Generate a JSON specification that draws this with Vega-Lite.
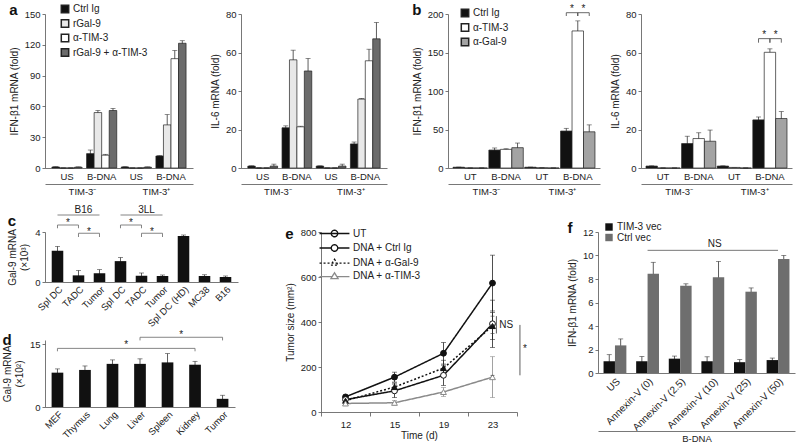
{
"$schema":"https://vega.github.io/schema/vega-lite/v6.json",
"background":"white",
"padding":{"left":2,"right":2,"top":3,"bottom":2},
"config":{
 "font":"Liberation Sans",
 "view":{"stroke":null},
 "axis":{"labelFont":"Liberation Sans","titleFont":"Liberation Sans","labelFontSize":9.5,"titleFontSize":10,"titleFontWeight":"normal","labelColor":"#222","titleColor":"#222","domainColor":"#555","tickColor":"#555","domainWidth":0.8,"tickWidth":0.8,"tickSize":3,"grid":false,"labelPadding":2,"titlePadding":5},
 "legend":{"labelFont":"Liberation Sans","labelFontSize":10,"labelColor":"#222"},
 "title":{"font":"Liberation Sans","fontSize":15,"fontWeight":"bold","anchor":"start","frame":"bounds","color":"#111"},
 "text":{"font":"Liberation Sans","fontSize":10,"color":"#222"}
},
"spacing":9,
"resolve":{"scale":{"color":"independent","fill":"independent","stroke":"independent","shape":"independent","strokeDash":"independent","xOffset":"independent"}},
"vconcat":[
{"spacing":25,
 "resolve":{"scale":{"color":"independent","fill":"independent","stroke":"independent","shape":"independent","strokeDash":"independent","xOffset":"independent"}},
 "hconcat":[
 {"spacing":17,
  "resolve":{"scale":{"color":"independent","xOffset":"independent"}},
  "hconcat":[
  {"width":148,"height":154,
   "title":{"text":"a","offset":-14},
   "layer":[
    {"data":{"values":[
     {"c":"TIM-3⁻ US","s":"Ctrl Ig","v":1,"e":0.2},
     {"c":"TIM-3⁻ US","s":"rGal-9","v":0,"e":0},
     {"c":"TIM-3⁻ US","s":"α-TIM-3","v":0,"e":0},
     {"c":"TIM-3⁻ US","s":"rGal-9 + α-TIM-3","v":0.8,"e":0.3},
     {"c":"TIM-3⁻ B-DNA","s":"Ctrl Ig","v":14,"e":3.5},
     {"c":"TIM-3⁻ B-DNA","s":"rGal-9","v":54,"e":2},
     {"c":"TIM-3⁻ B-DNA","s":"α-TIM-3","v":12.5,"e":0.8},
     {"c":"TIM-3⁻ B-DNA","s":"rGal-9 + α-TIM-3","v":56,"e":2},
     {"c":"TIM-3⁺ US","s":"Ctrl Ig","v":1,"e":0.2},
     {"c":"TIM-3⁺ US","s":"rGal-9","v":0,"e":0},
     {"c":"TIM-3⁺ US","s":"α-TIM-3","v":0,"e":0},
     {"c":"TIM-3⁺ US","s":"rGal-9 + α-TIM-3","v":0.8,"e":0.3},
     {"c":"TIM-3⁺ B-DNA","s":"Ctrl Ig","v":11.7,"e":0.3},
     {"c":"TIM-3⁺ B-DNA","s":"rGal-9","v":42,"e":10},
     {"c":"TIM-3⁺ B-DNA","s":"α-TIM-3","v":106.5,"e":8},
     {"c":"TIM-3⁺ B-DNA","s":"rGal-9 + α-TIM-3","v":121.5,"e":2.5}]},
     "encoding":{
      "x":{"field":"c","type":"nominal","scale":{"domain":["TIM-3⁻ US","TIM-3⁻ B-DNA","TIM-3⁺ US","TIM-3⁺ B-DNA"],"paddingInner":0.13,"paddingOuter":0.2},"axis":{"title":null,"labelExpr":"split(datum.label,' ')[1]","labelAngle":0,"ticks":false,"labelPadding":3}},
      "xOffset":{"field":"s","type":"nominal","scale":{"domain":["Ctrl Ig","rGal-9","α-TIM-3","rGal-9 + α-TIM-3"]}},
      "y":{"field":"v","type":"quantitative","scale":{"domain":[0,150]},"axis":{"title":"IFN-β1 mRNA (fold)","values":[0,30,60,90,120,150]}}
     },
     "layer":[
      {"mark":{"type":"errorbar","ticks":true,"size":5,"thickness":0.8,"color":"#333"},"encoding":{"yError":{"field":"e"}}},
      {"mark":{"type":"bar","stroke":"#222","strokeWidth":0.7},"encoding":{"color":{"field":"s","type":"nominal","scale":{"domain":["Ctrl Ig","rGal-9","α-TIM-3","rGal-9 + α-TIM-3"],"range":["#111111","#e8e8e8","#ffffff","#6b6b6b"]},"legend":{"title":null,"orient":"none","legendX":15,"legendY":-10,"symbolType":"square","symbolSize":55,"rowPadding":0.5,"labelOffset":3,"encode":{"symbols":{"stroke":{"value":"#222"},"strokeWidth":{"value":0.7}}}}}}}
     ]},
    {"data":{"values":[{"t":"TIM-3⁻"},{"t":"TIM-3⁺"}]},
     "mark":{"type":"text","opacity":0,"text":"."},
     "encoding":{"x":{"field":"t","type":"nominal","scale":{"domain":["TIM-3⁻","TIM-3⁺"],"paddingInner":0,"paddingOuter":0.05},"axis":{"orient":"bottom","offset":16,"title":null,"ticks":false,"labelAngle":0,"labelPadding":2,"domain":true}}}}
   ],
   "resolve":{"scale":{"x":"independent"},"axis":{"x":"independent"}}
  },
  {"width":146,"height":154,
   "layer":[
    {"data":{"values":[
     {"c":"TIM-3⁻ US","s":"Ctrl Ig","v":1,"e":0.1},
     {"c":"TIM-3⁻ US","s":"rGal-9","v":0,"e":0},
     {"c":"TIM-3⁻ US","s":"α-TIM-3","v":0,"e":0},
     {"c":"TIM-3⁻ US","s":"rGal-9 + α-TIM-3","v":1,"e":1},
     {"c":"TIM-3⁻ B-DNA","s":"Ctrl Ig","v":20.9,"e":1},
     {"c":"TIM-3⁻ B-DNA","s":"rGal-9","v":56.2,"e":5},
     {"c":"TIM-3⁻ B-DNA","s":"α-TIM-3","v":21.4,"e":0.3},
     {"c":"TIM-3⁻ B-DNA","s":"rGal-9 + α-TIM-3","v":50.4,"e":6.5},
     {"c":"TIM-3⁺ US","s":"Ctrl Ig","v":1,"e":0.1},
     {"c":"TIM-3⁺ US","s":"rGal-9","v":0,"e":0},
     {"c":"TIM-3⁺ US","s":"α-TIM-3","v":0,"e":0},
     {"c":"TIM-3⁺ US","s":"rGal-9 + α-TIM-3","v":1,"e":1},
     {"c":"TIM-3⁺ B-DNA","s":"Ctrl Ig","v":12.5,"e":1},
     {"c":"TIM-3⁺ B-DNA","s":"rGal-9","v":35.8,"e":0.3},
     {"c":"TIM-3⁺ B-DNA","s":"α-TIM-3","v":55.7,"e":6},
     {"c":"TIM-3⁺ B-DNA","s":"rGal-9 + α-TIM-3","v":67.1,"e":8.5}]},
     "encoding":{
      "x":{"field":"c","type":"nominal","scale":{"domain":["TIM-3⁻ US","TIM-3⁻ B-DNA","TIM-3⁺ US","TIM-3⁺ B-DNA"],"paddingInner":0.13,"paddingOuter":0.2},"axis":{"title":null,"labelExpr":"split(datum.label,' ')[1]","labelAngle":0,"ticks":false,"labelPadding":3}},
      "xOffset":{"field":"s","type":"nominal","scale":{"domain":["Ctrl Ig","rGal-9","α-TIM-3","rGal-9 + α-TIM-3"]}},
      "y":{"field":"v","type":"quantitative","scale":{"domain":[0,80]},"axis":{"title":"IL-6 mRNA (fold)","values":[0,20,40,60,80]}}
     },
     "layer":[
      {"mark":{"type":"errorbar","ticks":true,"size":5,"thickness":0.8,"color":"#333"},"encoding":{"yError":{"field":"e"}}},
      {"mark":{"type":"bar","stroke":"#222","strokeWidth":0.7},"encoding":{"color":{"field":"s","type":"nominal","scale":{"domain":["Ctrl Ig","rGal-9","α-TIM-3","rGal-9 + α-TIM-3"],"range":["#111111","#e8e8e8","#ffffff","#6b6b6b"]},"legend":null}}}
     ]},
    {"data":{"values":[{"t":"TIM-3⁻"},{"t":"TIM-3⁺"}]},
     "mark":{"type":"text","opacity":0,"text":"."},
     "encoding":{"x":{"field":"t","type":"nominal","scale":{"domain":["TIM-3⁻","TIM-3⁺"],"paddingInner":0,"paddingOuter":0.05},"axis":{"orient":"bottom","offset":16,"title":null,"ticks":false,"labelAngle":0,"labelPadding":2,"domain":true}}}}
   ],
   "resolve":{"scale":{"x":"independent"},"axis":{"x":"independent"}}
  }]
 },
 {"spacing":10,
  "resolve":{"scale":{"color":"independent","xOffset":"independent"}},
  "hconcat":[
  {"width":152,"height":154,
   "title":{"text":"b","offset":-14},
   "layer":[
    {"encoding":{
      "x":{"field":"c","type":"nominal","scale":{"domain":["TIM-3⁻ UT","TIM-3⁻ B-DNA","TIM-3⁺ UT","TIM-3⁺ B-DNA"],"paddingInner":0.04,"paddingOuter":0.14},"axis":{"title":null,"labelExpr":"split(datum.label,' ')[1]","labelAngle":0,"ticks":false,"labelPadding":3}},
      "xOffset":{"field":"s","type":"nominal","scale":{"domain":["Ctrl Ig","α-TIM-3","α-Gal-9"]}},
      "y":{"field":"v","type":"quantitative","scale":{"domain":[0,200]},"axis":{"title":"IFN-β1 mRNA (fold)","values":[0,50,100,150,200]}}
     },
     "layer":[
      {"data":{"values":[
       {"c":"TIM-3⁻ UT","s":"Ctrl Ig","v":1,"e":0.2},
       {"c":"TIM-3⁻ UT","s":"α-TIM-3","v":0,"e":0},
       {"c":"TIM-3⁻ UT","s":"α-Gal-9","v":0,"e":0},
       {"c":"TIM-3⁻ B-DNA","s":"Ctrl Ig","v":23.3,"e":2.7},
       {"c":"TIM-3⁻ B-DNA","s":"α-TIM-3","v":24.2,"e":0.8},
       {"c":"TIM-3⁻ B-DNA","s":"α-Gal-9","v":26.4,"e":6},
       {"c":"TIM-3⁺ UT","s":"Ctrl Ig","v":1,"e":0.2},
       {"c":"TIM-3⁺ UT","s":"α-TIM-3","v":0.3,"e":0},
       {"c":"TIM-3⁺ UT","s":"α-Gal-9","v":0,"e":0},
       {"c":"TIM-3⁺ B-DNA","s":"Ctrl Ig","v":48,"e":3.5},
       {"c":"TIM-3⁺ B-DNA","s":"α-TIM-3","v":178,"e":13},
       {"c":"TIM-3⁺ B-DNA","s":"α-Gal-9","v":47,"e":9}]},
       "layer":[
        {"mark":{"type":"errorbar","ticks":true,"size":5,"thickness":0.8,"color":"#333"},"encoding":{"yError":{"field":"e"}}},
        {"mark":{"type":"bar","stroke":"#222","strokeWidth":0.7},"encoding":{"color":{"field":"s","type":"nominal","scale":{"domain":["Ctrl Ig","α-TIM-3","α-Gal-9"],"range":["#111111","#ffffff","#a3a3a3"]},"legend":{"title":null,"orient":"none","legendX":12,"legendY":-6,"symbolType":"square","symbolSize":55,"rowPadding":0.5,"labelOffset":3,"encode":{"symbols":{"stroke":{"value":"#222"},"strokeWidth":{"value":0.7}}}}}}}
       ]},
      {"data":{"values":[
       {"c":"TIM-3⁺ B-DNA","s":"Ctrl Ig","v":197.4,"id":1,"o":1},
       {"c":"TIM-3⁺ B-DNA","s":"Ctrl Ig","v":201.7,"id":1,"o":2},
       {"c":"TIM-3⁺ B-DNA","s":"α-TIM-3","v":201.7,"id":1,"o":3},
       {"c":"TIM-3⁺ B-DNA","s":"α-TIM-3","v":197.4,"id":1,"o":4},
       {"c":"TIM-3⁺ B-DNA","s":"α-TIM-3","v":197.4,"id":2,"o":1},
       {"c":"TIM-3⁺ B-DNA","s":"α-TIM-3","v":201.7,"id":2,"o":2},
       {"c":"TIM-3⁺ B-DNA","s":"α-Gal-9","v":201.7,"id":2,"o":3},
       {"c":"TIM-3⁺ B-DNA","s":"α-Gal-9","v":197.4,"id":2,"o":4}]},
       "mark":{"type":"line","color":"#444","strokeWidth":0.8},
       "encoding":{"detail":{"field":"id","type":"nominal"},"order":{"field":"o","type":"quantitative"}}},
      {"data":{"values":[
       {"c":"TIM-3⁺ B-DNA","s":"Ctrl Ig","v":202,"t":"*"},
       {"c":"TIM-3⁺ B-DNA","s":"α-TIM-3","v":202,"t":"*"}]},
       "mark":{"type":"text","dx":5.75,"baseline":"alphabetic"},
       "encoding":{"text":{"field":"t"}}}
     ]},
    {"data":{"values":[{"t":"TIM-3⁻"},{"t":"TIM-3⁺"}]},
     "mark":{"type":"text","opacity":0,"text":"."},
     "encoding":{"x":{"field":"t","type":"nominal","scale":{"domain":["TIM-3⁻","TIM-3⁺"],"paddingInner":0,"paddingOuter":0.05},"axis":{"orient":"bottom","offset":16,"title":null,"ticks":false,"labelAngle":0,"labelPadding":2,"domain":true}}}}
   ],
   "resolve":{"scale":{"x":"independent"},"axis":{"x":"independent"}}
  },
  {"width":151,"height":154,
   "layer":[
    {"encoding":{
      "x":{"field":"c","type":"nominal","scale":{"domain":["TIM-3⁻ UT","TIM-3⁻ B-DNA","TIM-3⁺ UT","TIM-3⁺ B-DNA"],"paddingInner":0.04,"paddingOuter":0.14},"axis":{"title":null,"labelExpr":"split(datum.label,' ')[1]","labelAngle":0,"ticks":false,"labelPadding":3}},
      "xOffset":{"field":"s","type":"nominal","scale":{"domain":["Ctrl Ig","α-TIM-3","α-Gal-9"]}},
      "y":{"field":"v","type":"quantitative","scale":{"domain":[0,80]},"axis":{"title":"IL-6 mRNA (fold)","values":[0,20,40,60,80]}}
     },
     "layer":[
      {"data":{"values":[
       {"c":"TIM-3⁻ UT","s":"Ctrl Ig","v":1,"e":0.1},
       {"c":"TIM-3⁻ UT","s":"α-TIM-3","v":0,"e":0},
       {"c":"TIM-3⁻ UT","s":"α-Gal-9","v":0,"e":0},
       {"c":"TIM-3⁻ B-DNA","s":"Ctrl Ig","v":12.7,"e":3.8},
       {"c":"TIM-3⁻ B-DNA","s":"α-TIM-3","v":15.3,"e":3},
       {"c":"TIM-3⁻ B-DNA","s":"α-Gal-9","v":13.9,"e":5.8},
       {"c":"TIM-3⁺ UT","s":"Ctrl Ig","v":1,"e":0.1},
       {"c":"TIM-3⁺ UT","s":"α-TIM-3","v":0.3,"e":0},
       {"c":"TIM-3⁺ UT","s":"α-Gal-9","v":0,"e":0},
       {"c":"TIM-3⁺ B-DNA","s":"Ctrl Ig","v":25,"e":1.5},
       {"c":"TIM-3⁺ B-DNA","s":"α-TIM-3","v":60.1,"e":1.8},
       {"c":"TIM-3⁺ B-DNA","s":"α-Gal-9","v":25.7,"e":3.6}]},
       "layer":[
        {"mark":{"type":"errorbar","ticks":true,"size":5,"thickness":0.8,"color":"#333"},"encoding":{"yError":{"field":"e"}}},
        {"mark":{"type":"bar","stroke":"#222","strokeWidth":0.7},"encoding":{"color":{"field":"s","type":"nominal","scale":{"domain":["Ctrl Ig","α-TIM-3","α-Gal-9"],"range":["#111111","#ffffff","#a3a3a3"]},"legend":null}}}
       ]},
      {"data":{"values":[
       {"c":"TIM-3⁺ B-DNA","s":"Ctrl Ig","v":65.1,"id":1,"o":1},
       {"c":"TIM-3⁺ B-DNA","s":"Ctrl Ig","v":67.2,"id":1,"o":2},
       {"c":"TIM-3⁺ B-DNA","s":"α-TIM-3","v":67.2,"id":1,"o":3},
       {"c":"TIM-3⁺ B-DNA","s":"α-TIM-3","v":65.1,"id":1,"o":4},
       {"c":"TIM-3⁺ B-DNA","s":"α-TIM-3","v":65.1,"id":2,"o":1},
       {"c":"TIM-3⁺ B-DNA","s":"α-TIM-3","v":67.2,"id":2,"o":2},
       {"c":"TIM-3⁺ B-DNA","s":"α-Gal-9","v":67.2,"id":2,"o":3},
       {"c":"TIM-3⁺ B-DNA","s":"α-Gal-9","v":65.1,"id":2,"o":4}]},
       "mark":{"type":"line","color":"#444","strokeWidth":0.8},
       "encoding":{"detail":{"field":"id","type":"nominal"},"order":{"field":"o","type":"quantitative"}}},
      {"data":{"values":[
       {"c":"TIM-3⁺ B-DNA","s":"Ctrl Ig","v":67.5,"t":"*"},
       {"c":"TIM-3⁺ B-DNA","s":"α-TIM-3","v":67.5,"t":"*"}]},
       "mark":{"type":"text","dx":5.75,"baseline":"alphabetic"},
       "encoding":{"text":{"field":"t"}}}
     ]},
    {"data":{"values":[{"t":"TIM-3⁻"},{"t":"TIM-3⁺"}]},
     "mark":{"type":"text","opacity":0,"text":"."},
     "encoding":{"x":{"field":"t","type":"nominal","scale":{"domain":["TIM-3⁻","TIM-3⁺"],"paddingInner":0,"paddingOuter":0.05},"axis":{"orient":"bottom","offset":16,"title":null,"ticks":false,"labelAngle":0,"labelPadding":2,"domain":true}}}}
   ],
   "resolve":{"scale":{"x":"independent"},"axis":{"x":"independent"}}
  }]
 }]
},
{"spacing":47,
 "resolve":{"scale":{"color":"independent","fill":"independent","stroke":"independent","shape":"independent","strokeDash":"independent","xOffset":"independent"}},
 "hconcat":[
 {"spacing":0,
  "vconcat":[
  {"width":193,"height":50,
   "title":{"text":"c","offset":-24},
   "layer":[
    {"data":{"values":[
     {"k":"Spl DC","v":2.5,"e":0.35},{"k":"TADC","v":0.53,"e":0.4},{"k":"Tumor","v":0.7,"e":0.29},
     {"k":"Spl DC ","v":1.67,"e":0.29},{"k":"TADC ","v":0.5,"e":0.22},{"k":"Tumor ","v":0.48,"e":0.08},
     {"k":"Spl DC (HD)","v":3.68,"e":0.08},{"k":"MC38","v":0.48,"e":0.1},{"k":"B16","v":0.4,"e":0.08}]},
     "encoding":{
      "x":{"field":"k","type":"nominal","scale":{"domain":["Spl DC","TADC","Tumor","Spl DC ","TADC ","Tumor ","Spl DC (HD)","MC38","B16"],"paddingInner":0.45,"paddingOuter":0.32},"axis":{"title":null,"labelExpr":"trim(datum.label)","labelAngle":-45,"ticks":false,"labelPadding":2,"labelFontSize":9.5}},
      "y":{"field":"v","type":"quantitative","scale":{"domain":[0,4]},"axis":{"title":["Gal-9 mRNA","(×10³)"],"values":[0,1,2,3,4]}}
     },
     "layer":[
      {"mark":{"type":"errorbar","ticks":true,"size":5,"thickness":0.8,"color":"#333"},"encoding":{"yError":{"field":"e"}}},
      {"mark":{"type":"bar","color":"#111"}}
     ]},
    {"data":{"values":[
     {"k":"Spl DC","v":5.36,"id":"h1","o":1},{"k":"Tumor","v":5.36,"id":"h1","o":2},
     {"k":"Spl DC ","v":5.36,"id":"h2","o":1},{"k":"Tumor ","v":5.36,"id":"h2","o":2},
     {"k":"Spl DC","v":4.3,"id":"b1","o":1},{"k":"Spl DC","v":4.56,"id":"b1","o":2},{"k":"TADC","v":4.56,"id":"b1","o":3},{"k":"TADC","v":4.3,"id":"b1","o":4},
     {"k":"TADC","v":3.6,"id":"b2","o":1},{"k":"TADC","v":3.9,"id":"b2","o":2},{"k":"Tumor","v":3.9,"id":"b2","o":3},{"k":"Tumor","v":3.6,"id":"b2","o":4},
     {"k":"Spl DC ","v":4.3,"id":"b3","o":1},{"k":"Spl DC ","v":4.56,"id":"b3","o":2},{"k":"TADC ","v":4.56,"id":"b3","o":3},{"k":"TADC ","v":4.3,"id":"b3","o":4},
     {"k":"TADC ","v":3.6,"id":"b4","o":1},{"k":"TADC ","v":3.9,"id":"b4","o":2},{"k":"Tumor ","v":3.9,"id":"b4","o":3},{"k":"Tumor ","v":3.6,"id":"b4","o":4}]},
     "mark":{"type":"line","color":"#777","strokeWidth":0.9},
     "encoding":{"x":{"field":"k","type":"nominal"},"y":{"field":"v","type":"quantitative"},"detail":{"field":"id","type":"nominal"},"order":{"field":"o","type":"quantitative"}}},
    {"data":{"values":[{"k":"TADC","v":5.5,"t":"B16"},{"k":"TADC ","v":5.5,"t":"3LL"}]},
     "mark":{"type":"text","baseline":"alphabetic","dx":5},
     "encoding":{"x":{"field":"k","type":"nominal"},"y":{"field":"v","type":"quantitative"},"text":{"field":"t"}}},
    {"data":{"values":[{"k":"Spl DC","v":4.45,"t":"*"},{"k":"TADC","v":3.76,"t":"*"},{"k":"Spl DC ","v":4.45,"t":"*"},{"k":"TADC ","v":3.76,"t":"*"}]},
     "mark":{"type":"text","baseline":"alphabetic","dx":10.5},
     "encoding":{"x":{"field":"k","type":"nominal"},"y":{"field":"v","type":"quantitative"},"text":{"field":"t"}}}
   ]
  },
  {"width":190,"height":67,
   "title":{"text":"d","offset":-18},
   "layer":[
    {"data":{"values":[
     {"k":"MEF","v":8.2,"e":0.9},{"k":"Thymus","v":8.85,"e":0.95},{"k":"Lung","v":10.3,"e":0.95},{"k":"Liver","v":10.3,"e":1.2},
     {"k":"Spleen","v":10.65,"e":2.1},{"k":"Kidney","v":10.1,"e":0.8},{"k":"Tumor","v":1.95,"e":0.85}]},
     "encoding":{
      "x":{"field":"k","type":"nominal","scale":{"domain":["MEF","Thymus","Lung","Liver","Spleen","Kidney","Tumor"],"paddingInner":0.575,"paddingOuter":0.24},"axis":{"title":null,"labelAngle":-45,"ticks":false,"labelPadding":2,"labelFontSize":9.5}},
      "y":{"field":"v","type":"quantitative","scale":{"domain":[0,15]},"axis":{"title":["Gal-9 mRNA","(×10²)"],"values":[0,5,10,15]}}
     },
     "layer":[
      {"mark":{"type":"errorbar","ticks":true,"size":5,"thickness":0.8,"color":"#333"},"encoding":{"yError":{"field":"e"}}},
      {"mark":{"type":"bar","color":"#111"}}
     ]},
    {"data":{"values":[
     {"k":"MEF","v":13.3,"id":"b1","o":1},{"k":"MEF","v":14.0,"id":"b1","o":2},{"k":"Kidney","v":14.0,"id":"b1","o":3},{"k":"Kidney","v":13.3,"id":"b1","o":4},
     {"k":"Liver","v":15.9,"id":"b2","o":1},{"k":"Liver","v":16.65,"id":"b2","o":2},{"k":"Tumor","v":16.65,"id":"b2","o":3},{"k":"Tumor","v":15.9,"id":"b2","o":4}]},
     "mark":{"type":"line","color":"#777","strokeWidth":0.9},
     "encoding":{"x":{"field":"k","type":"nominal"},"y":{"field":"v","type":"quantitative"},"detail":{"field":"id","type":"nominal"},"order":{"field":"o","type":"quantitative"}}},
    {"data":{"values":[{"k":"Lung","v":14.1,"t":"*"},{"k":"Spleen","v":16.5,"t":"*"}]},
     "mark":{"type":"text","baseline":"alphabetic","dx":13.75},
     "encoding":{"x":{"field":"k","type":"nominal"},"y":{"field":"v","type":"quantitative"},"text":{"field":"t"}}}
   ]
  }]
 },
 {"spacing":40,
  "resolve":{"scale":{"color":"independent","fill":"independent","stroke":"independent","shape":"independent","strokeDash":"independent","xOffset":"independent"}},
  "hconcat":[
  {"width":196,"height":180,
   "title":{"text":"e","offset":-16},
   "layer":[
    {"data":{"values":[
     {"g":"UT","d":"12","v":67,"e":8},{"g":"UT","d":"15","v":155,"e":22},{"g":"UT","d":"19","v":261,"e":48},{"g":"UT","d":"23","v":573,"e":124},
     {"g":"DNA + Ctrl Ig","d":"12","v":55,"e":6},{"g":"DNA + Ctrl Ig","d":"15","v":94,"e":30},{"g":"DNA + Ctrl Ig","d":"19","v":163,"e":45},{"g":"DNA + Ctrl Ig","d":"23","v":392,"e":105},
     {"g":"DNA + α-Gal-9","d":"12","v":50,"e":5},{"g":"DNA + α-Gal-9","d":"15","v":111,"e":18},{"g":"DNA + α-Gal-9","d":"19","v":195,"e":35},{"g":"DNA + α-Gal-9","d":"23","v":382,"e":60},
     {"g":"DNA + α-TIM-3","d":"12","v":38,"e":5},{"g":"DNA + α-TIM-3","d":"15","v":41,"e":10},{"g":"DNA + α-TIM-3","d":"19","v":89,"e":20},{"g":"DNA + α-TIM-3","d":"23","v":155,"e":91}]},
     "encoding":{
      "x":{"field":"d","type":"ordinal","scale":{"domain":["12","15","19","23"],"paddingInner":0,"paddingOuter":0},"axis":{"title":"Time (d)","labelAngle":0,"tickBand":"extent","ticks":true,"tickSize":4,"labelPadding":3,"titlePadding":2}},
      "y":{"field":"v","type":"quantitative","scale":{"domain":[0,800]},"axis":{"title":"Tumor size (mm²)","values":[0,100,200,300,400,500,600,700,800]}}
     },
     "layer":[
      {"transform":[{"filter":"datum.g !== 'DNA + α-TIM-3'"}],
       "mark":{"type":"errorbar","ticks":true,"size":5,"thickness":0.8,"color":"#222222"},"encoding":{"yError":{"field":"e"}}},
      {"transform":[{"filter":"datum.g === 'DNA + α-TIM-3'"}],
       "mark":{"type":"errorbar","ticks":true,"size":5,"thickness":0.8,"color":"#8a8a8a"},"encoding":{"yError":{"field":"e"}}},
      {"mark":{"type":"line","strokeWidth":1.5},"encoding":{
        "stroke":{"field":"g","type":"nominal","scale":{"domain":["UT","DNA + Ctrl Ig","DNA + α-Gal-9","DNA + α-TIM-3"],"range":["#111111","#111111","#111111","#8a8a8a"]}},
        "strokeDash":{"field":"g","type":"nominal","scale":{"domain":["UT","DNA + Ctrl Ig","DNA + α-Gal-9","DNA + α-TIM-3"],"range":[[1,0],[1,0],[2,2],[1,0]]}}}},
      {"mark":{"type":"point","filled":true,"size":169,"opacity":0},"encoding":{
        "shape":{"field":"g","type":"nominal","scale":{"domain":["UT","DNA + Ctrl Ig","DNA + α-Gal-9","DNA + α-TIM-3"],"range":["M-2.3,0H2.3M0.5,0A0.5,0.5,0,1,1,-0.5,0A0.5,0.5,0,1,1,0.5,0","M-2.3,0H-0.5M0.5,0H2.3M0.5,0A0.5,0.5,0,1,1,-0.5,0A0.5,0.5,0,1,1,0.5,0","M-2.3,0.1H2.3M0,-0.5L0.55,0.4L-0.55,0.4Z","M-2.3,0.1H-0.4M0.4,0.1H2.3M0,-0.5L0.55,0.4L-0.55,0.4Z"]},
          "legend":{"title":null,"orient":"none","legendX":6,"legendY":-6,"symbolSize":169,"symbolStrokeWidth":1.3,"symbolOpacity":1,"labelOffset":11,"rowPadding":0.5}},
        "fill":{"field":"g","type":"nominal","scale":{"domain":["UT","DNA + Ctrl Ig","DNA + α-Gal-9","DNA + α-TIM-3"],"range":["#111111","#ffffff","#111111","#ffffff"]}},
        "stroke":{"field":"g","type":"nominal"},
        "strokeDash":{"field":"g","type":"nominal"}}},
      {"transform":[{"filter":"datum.g === 'UT' || datum.g === 'DNA + Ctrl Ig'"}],
       "mark":{"type":"point","shape":"circle","filled":true,"size":34,"strokeWidth":1,"opacity":1},"encoding":{
        "fill":{"field":"g","type":"nominal"},
        "stroke":{"field":"g","type":"nominal"}}},
      {"transform":[{"filter":"datum.g === 'DNA + α-Gal-9' || datum.g === 'DNA + α-TIM-3'"}],
       "mark":{"type":"point","shape":"triangle-up","filled":true,"size":34,"strokeWidth":1,"opacity":1},"encoding":{
        "fill":{"field":"g","type":"nominal"},
        "stroke":{"field":"g","type":"nominal"}}}
     ]},
    {"data":{"values":[{"d":"23","v":349,"v2":426}]},
     "mark":{"type":"rule","color":"#333","strokeWidth":0.8},
     "encoding":{"x":{"field":"d","type":"ordinal","bandPosition":0.58},"y":{"field":"v","type":"quantitative"},"y2":{"field":"v2"}}},
    {"data":{"values":[{"d":"23","v":163,"v2":387}]},
     "mark":{"type":"rule","color":"#333","strokeWidth":0.8},
     "encoding":{"x":{"field":"d","type":"ordinal","bandPosition":1.06},"y":{"field":"v","type":"quantitative"},"y2":{"field":"v2"}}},
    {"data":{"values":[{"d":"23","v":349},{"d":"23","v":426}]},
     "mark":{"type":"tick","color":"#333","size":4,"thickness":0.8},
     "encoding":{"x":{"field":"d","type":"ordinal","bandPosition":0.54},"y":{"field":"v","type":"quantitative"}}},
    {"data":{"values":[{"d":"23","v":163},{"d":"23","v":387}]},
     "mark":{"type":"tick","color":"#333","size":4,"thickness":0.8},
     "encoding":{"x":{"field":"d","type":"ordinal","bandPosition":1.02},"y":{"field":"v","type":"quantitative"}}},
    {"data":{"values":[{"d":"23","v":387,"t":"NS"}]},
     "mark":{"type":"text","align":"left","baseline":"middle"},
     "encoding":{"x":{"field":"d","type":"ordinal","bandPosition":0.64},"y":{"field":"v","type":"quantitative"},"text":{"field":"t"}}},
    {"data":{"values":[{"d":"23","v":280,"t":"*"}]},
     "mark":{"type":"text","align":"left","baseline":"middle"},
     "encoding":{"x":{"field":"d","type":"ordinal","bandPosition":1.12},"y":{"field":"v","type":"quantitative"},"text":{"field":"t"}}}
   ]
  },
  {"width":197,"height":141,
   "title":{"text":"f","offset":-14},
   "layer":[
    {"encoding":{
      "x":{"field":"k","type":"nominal","scale":{"domain":["US","Annexin-V (0)","Annexin-V (2.5)","Annexin-V (10)","Annexin-V (25)","Annexin-V (50)"],"paddingInner":0.3,"paddingOuter":0.17},"axis":{"title":null,"labelAngle":-45,"ticks":false,"labelPadding":3,"labelFontSize":10}},
      "y":{"field":"v","type":"quantitative","scale":{"domain":[0,12]},"axis":{"title":"IFN-β1 mRNA (fold)","values":[0,2,4,6,8,10,12]}}
     },
     "layer":[
      {"data":{"values":[
       {"k":"US","s":"TIM-3 vec","v":1.0,"e":0.56},{"k":"US","s":"Ctrl vec","v":2.35,"e":0.55},
       {"k":"Annexin-V (0)","s":"TIM-3 vec","v":1.0,"e":0.4},{"k":"Annexin-V (0)","s":"Ctrl vec","v":8.45,"e":0.97},
       {"k":"Annexin-V (2.5)","s":"TIM-3 vec","v":1.22,"e":0.22},{"k":"Annexin-V (2.5)","s":"Ctrl vec","v":7.42,"e":0.17},
       {"k":"Annexin-V (10)","s":"TIM-3 vec","v":1.0,"e":0.38},{"k":"Annexin-V (10)","s":"Ctrl vec","v":8.15,"e":1.35},
       {"k":"Annexin-V (25)","s":"TIM-3 vec","v":0.92,"e":0.22},{"k":"Annexin-V (25)","s":"Ctrl vec","v":6.92,"e":0.32},
       {"k":"Annexin-V (50)","s":"TIM-3 vec","v":1.1,"e":0.17},{"k":"Annexin-V (50)","s":"Ctrl vec","v":9.7,"e":0.3}]},
       "encoding":{"xOffset":{"field":"s","type":"nominal","scale":{"domain":["TIM-3 vec","Ctrl vec"]}}},
       "layer":[
        {"mark":{"type":"errorbar","ticks":true,"size":5,"thickness":0.8,"color":"#333"},"encoding":{"yError":{"field":"e"}}},
        {"mark":{"type":"bar"},"encoding":{"color":{"field":"s","type":"nominal","scale":{"domain":["TIM-3 vec","Ctrl vec"],"range":["#111111","#6e6e6e"]},"legend":{"title":null,"orient":"none","legendX":6,"legendY":-10,"symbolType":"square","symbolSize":55,"rowPadding":0.5,"labelOffset":3}}}}
       ]},
      {"data":{"values":[{"k":"Annexin-V (0)","k2":"Annexin-V (50)","v":10.44}]},
       "mark":{"type":"rule","color":"#777","strokeWidth":1},
       "encoding":{"x2":{"field":"k2"}}},
      {"data":{"values":[{"k":"Annexin-V (10)","v":10.7,"t":"NS"}]},
       "mark":{"type":"text","baseline":"alphabetic","dx":2},
       "encoding":{"text":{"field":"t"}}}
     ]},
    {"data":{"values":[{"t":"B-DNA"}]},
     "mark":{"type":"text","opacity":0,"text":"."},
     "encoding":{"x":{"field":"t","type":"nominal","scale":{"domain":["B-DNA"],"paddingInner":0,"paddingOuter":0},"axis":{"orient":"bottom","offset":58,"title":null,"ticks":false,"labelAngle":0,"labelPadding":2,"domain":true}}}}
   ],
   "resolve":{"scale":{"x":"independent"},"axis":{"x":"independent"}}
  }]
 }]
}]
}
